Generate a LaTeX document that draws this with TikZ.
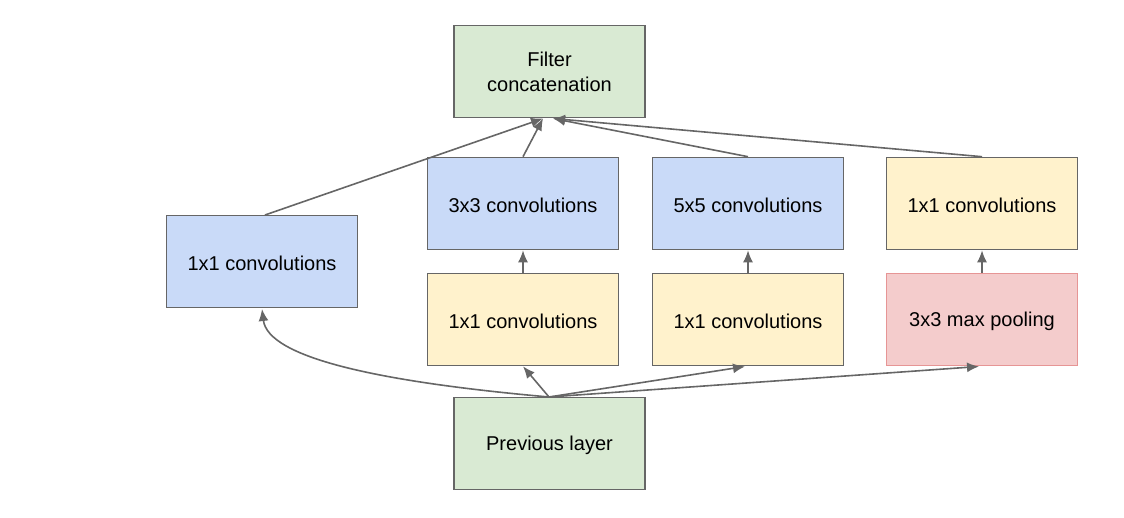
\documentclass[tikz,border=0pt]{standalone}
\usepackage{fontspec}
\setmainfont{Liberation Sans}
\usetikzlibrary{arrows.meta}
\definecolor{bluef}{HTML}{C9DAF8}
\definecolor{yellowf}{HTML}{FFF2CC}
\definecolor{greenf}{HTML}{D9EAD3}
\definecolor{redf}{HTML}{F4CCCC}
\definecolor{redd}{HTML}{E69595}
\definecolor{edge}{HTML}{666666}
\newcommand\boxlab[1]{\raisebox{-2pt}[\height][\depth]{#1}}
\tikzset{
  box/.style={draw=edge, line width=1.6pt, minimum width=191pt, minimum height=92pt,
    inner sep=0pt, align=center, font=\fontsize{20}{25}\selectfont},
  bluebox/.style={box, fill=bluef},
  yellowbox/.style={box, fill=yellowf},
  greenbox/.style={box, fill=greenf},
  redbox/.style={box, fill=redf, draw=redd},
  conn/.style={draw=edge, line width=1.6pt, -{Latex[length=12pt,width=10pt]}},
}
\begin{document}
\begin{tikzpicture}[x=1pt,y=-1pt]
\useasboundingbox (0,0) rectangle (1124,518);
\node[greenbox] (concat) at (549.5,71.5) {Filter\\concatenation};
\node[bluebox] (left) at (262,261.5) {\boxlab{1x1 convolutions}};
\node[bluebox] (c3) at (523,203.5) {\boxlab{3x3 convolutions}};
\node[bluebox] (c5) at (748,203.5) {\boxlab{5x5 convolutions}};
\node[yellowbox] (rtop) at (982,203.5) {\boxlab{1x1 convolutions}};
\node[yellowbox] (m1) at (523,319.5) {\boxlab{1x1 convolutions}};
\node[yellowbox] (m2) at (748,319.5) {\boxlab{1x1 convolutions}};
\node[redbox] (pool) at (982,319.5) {\boxlab{3x3 max pooling}};
\node[greenbox] (prev) at (549.5,443.5) {\boxlab{Previous layer}};
\coordinate (cl) at (543,118.5);
\coordinate (cr) at (553,118.5);
\coordinate (pt) at (549,397);
\coordinate (lt) at (265,215);
\coordinate (lb) at (262,309);
\coordinate (m2b) at (745,366.5);
\coordinate (pb) at (979,366.5);
\draw[conn] (lt) -- (cl);
\draw[conn] (c3.north) -- (cl);
\draw[conn] (c5.north) -- (cr);
\draw[conn] (rtop.north) -- (cr);
\draw[conn] (m1.north) -- (c3.south);
\draw[conn] (m2.north) -- (c5.south);
\draw[conn] (pool.north) -- (rtop.south);
\draw[conn] (pt) .. controls (380,382) and (268,358) .. (lb);
\draw[conn] (pt) -- (m1.south);
\draw[conn] (pt) -- (m2b);
\draw[conn] (pt) -- (pb);
\end{tikzpicture}
\end{document}
